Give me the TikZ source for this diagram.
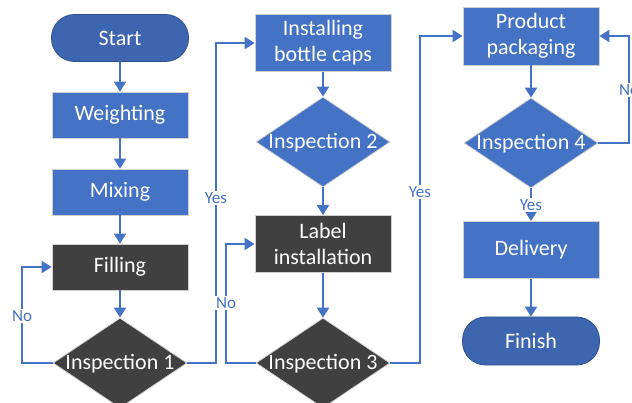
\documentclass[tikz,border=0pt]{standalone}
\usepackage{fontspec}
\setmainfont{Carlito}
\usetikzlibrary{shapes.geometric,arrows.meta}
\definecolor{flowblue}{HTML}{4472C4}
\definecolor{termblue}{HTML}{3E66B0}
\definecolor{termedge}{HTML}{2F528F}
\definecolor{darkbox}{HTML}{404040}
\definecolor{edgegray}{HTML}{D0D0D0}
\tikzset{
  proc/.style={rectangle, draw=edgegray, line width=0.8pt, text=white,
    minimum width=136pt, minimum height=46pt, inner sep=0pt, align=center,
    font=\fontsize{22}{26}\selectfont},
  bluebox/.style={proc, fill=flowblue},
  darkproc/.style={proc, fill=darkbox},
  tallbox/.style={minimum height=57pt},
  term/.style={rectangle, rounded corners=23pt, draw=termedge, line width=0.8pt,
    fill=termblue, text=white, minimum width=137pt, minimum height=47pt,
    inner sep=0pt, font=\fontsize{22}{26}\selectfont},
  decision/.style={diamond, draw=edgegray, line width=0.8pt, minimum width=134pt,
    minimum height=90pt, inner sep=0pt},
  dectext/.style={text=white, font=\fontsize{22}{26}\selectfont},
  arr/.style={draw=flowblue, line width=2.2pt,
    -{Triangle[width=12pt,length=10pt]}},
  lbl/.style={fill=white, text=flowblue, inner sep=1pt,
    font=\fontsize{17}{20}\selectfont}
}
\begin{document}
\begin{tikzpicture}[x=1pt,y=-1pt]
\useasboundingbox (0,0) rectangle (632,403);
\clip (0,0) rectangle (632,403);

% first column
\node[term] (start) at (120,38) {Start};
\node[bluebox] (weigh) at (120,115) {Weighting};
\node[bluebox] (mix) at (120,192) {Mixing};
\node[darkproc] (fill) at (120,267) {Filling};
\node[decision, fill=darkbox] (i1) at (120,363) {};
\node[dectext] at (120,364) {Inspection 1};

% second column
\node[bluebox, tallbox] (caps) at (323,43) {Installing\\bottle caps};
\node[decision, fill=flowblue] (i2) at (323,142) {};
\node[dectext] at (323,143) {Inspection 2};
\node[darkproc, tallbox] (lab) at (323,244) {Label\\installation};
\node[decision, fill=darkbox] (i3) at (323,363) {};
\node[dectext] at (323,364) {Inspection 3};

% third column
\node[bluebox, tallbox, minimum height=58pt] (pack) at (531,36) {Product\\packaging};
\node[decision, fill=flowblue] (i4) at (531,143) {};
\node[dectext] at (531,144) {Inspection 4};
\node[bluebox, tallbox] (deliv) at (531,250) {Delivery};
\node[term, minimum height=48pt] (finish) at (531,341) {Finish};

% bend points of the loop-back and carry-over lines
\coordinate (b1) at (22,363);
\coordinate (b2) at (216,363);
\coordinate (b3) at (226,363);
\coordinate (b4) at (420,363);
\coordinate (b5) at (629,143);

% straight flow
\draw[arr] (start) -- (weigh);
\draw[arr] (weigh) -- (mix);
\draw[arr] (mix) -- (fill);
\draw[arr] (fill) -- (i1);
\draw[arr] (caps) -- (i2);
\draw[arr] (i2) -- (lab);
\draw[arr] (lab) -- (i3);
\draw[arr] (pack) -- (i4);
\draw[arr] (i4) -- (deliv);
\draw[arr] (deliv) -- (finish);

% branches
\draw[arr] (i1.west) -- (b1) |- (fill.west);
\draw[arr] (i1.east) -- (b2) |- (caps.west);
\draw[arr] (i3.west) -- (b3) |- (lab.west);
\draw[arr] (i3.east) -- (b4) |- (pack.west);
\draw[arr] (i4.east) -- (b5) |- (pack.east);

% branch labels
\node[lbl] at (22,316) {No};
\node[lbl] at (216,198) {Yes};
\node[lbl] at (226,303) {No};
\node[lbl] at (420,192) {Yes};
\node[lbl] at (629,90) {No};
\node[lbl] at (531,205) {Yes};
\end{tikzpicture}
\end{document}
